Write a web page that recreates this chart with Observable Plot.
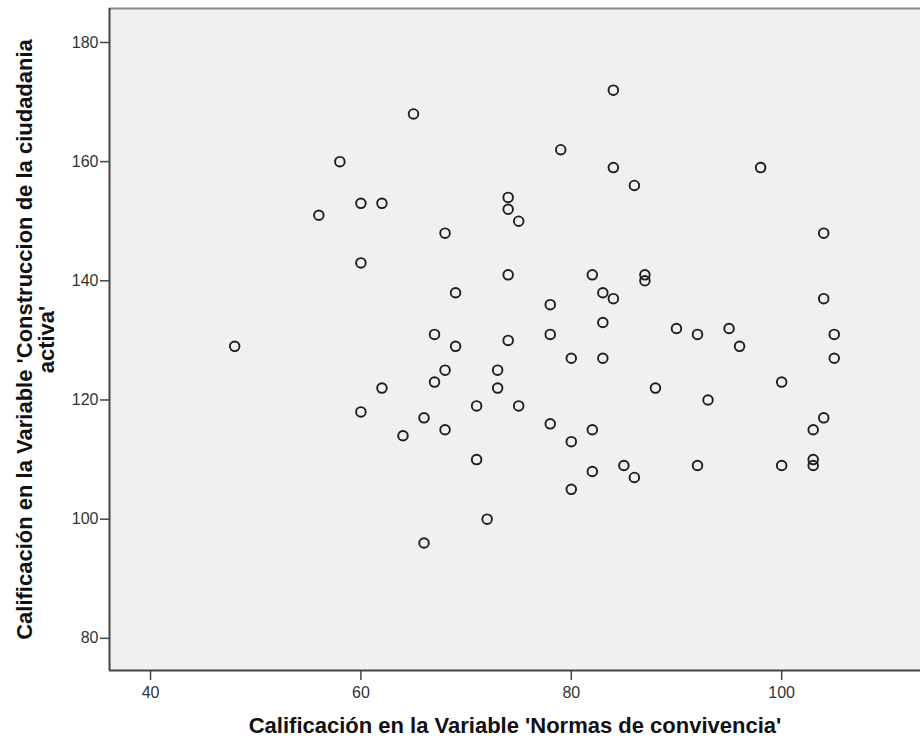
<!DOCTYPE html>
<html>
<head>
<meta charset="utf-8">
<script src="https://cdn.jsdelivr.net/npm/d3@7"></script>
<script src="https://cdn.jsdelivr.net/npm/@observablehq/plot@0.6"></script>
<style>
  html, body { margin: 0; padding: 0; background: #ffffff; }
  #chart { width: 920px; height: 742px; }
</style>
</head>
<body>
<div id="chart"></div>
<script>
// Calificación en la Variable 'Normas de convivencia' (x)
const normas = [
  48, 56, 58, 60, 60, 60, 62, 62, 64, 65, 66, 66, 67, 67, 68, 68, 68, 69, 69,
  71, 71, 72, 73, 73, 74, 74, 74, 74, 75, 75, 78, 78, 78, 79, 80, 80, 80,
  82, 82, 82, 83, 83, 83, 84, 84, 84, 85, 86, 86, 87, 87, 88, 90, 92, 92,
  93, 95, 96, 98, 100, 100, 103, 103, 103, 104, 104, 104, 105, 105
];
// Calificación en la Variable 'Construccion de la ciudadania activa' (y)
const ciudadania = [
  129, 151, 160, 153, 143, 118, 153, 122, 114, 168, 117, 96, 131, 123, 148, 125, 115, 138, 129,
  119, 110, 100, 125, 122, 154, 152, 141, 130, 150, 119, 136, 131, 116, 162, 127, 113, 105,
  141, 115, 108, 138, 133, 127, 172, 159, 137, 109, 156, 107, 141, 140, 122, 132, 131, 109,
  120, 132, 129, 159, 123, 109, 115, 110, 109, 148, 137, 117, 131, 127
];
const xTicks = [40, 60, 80, 100];
const yTicks = [80, 100, 120, 140, 160, 180];
const xDomain = [36.1, 113.2];
const yDomain = [74.6, 185.7];
const xTitle = "Calificación en la Variable 'Normas de convivencia'";
const yTitle = "Calificación en la Variable 'Construccion de la ciudadania\nactiva'";

const data = normas.map((v, i) => ({x: v, y: ciudadania[i]}));

const chart = Plot.plot({
  width: 920,
  height: 742,
  marginLeft: 109,
  marginRight: 0,
  marginTop: 8,
  marginBottom: 72,
  style: {fontFamily: "'Liberation Sans', Arial, sans-serif", fontSize: "16px", color: "#333", background: "#ffffff"},
  x: {domain: xDomain, label: null},
  y: {domain: yDomain, label: null},
  marks: [
    Plot.frame({fill: "#f0f0f0", stroke: "none"}),
    Plot.ruleY([yDomain[1]], {stroke: "#8a8a8a", strokeWidth: 2}),
    Plot.ruleX([xDomain[0]], {stroke: "#444", strokeWidth: 2}),
    Plot.ruleY([yDomain[0]], {stroke: "#444", strokeWidth: 2}),
    Plot.axisX({ticks: xTicks, tickSize: 10, tickPadding: 6, fontSize: 16, stroke: "#444", strokeWidth: 1.5, label: null}),
    Plot.axisY({ticks: yTicks, tickSize: 9, tickPadding: 2, fontSize: 16, stroke: "#444", strokeWidth: 1.5, label: null}),
    Plot.dot(data, {x: "x", y: "y", r: 4.8, stroke: "#1e1e1e", strokeWidth: 1.9, fill: "none"}),
    Plot.text([xTitle], {frameAnchor: "bottom", dy: 62, fontSize: 22, fontWeight: "bold", fill: "#111"}),
    Plot.text([yTitle], {frameAnchor: "left", textAnchor: "middle", dx: -74, rotate: -90, fontSize: 22, fontWeight: "bold", fill: "#111", lineHeight: 1})
  ]
});
document.getElementById("chart").appendChild(chart);
</script>
</body>
</html>
